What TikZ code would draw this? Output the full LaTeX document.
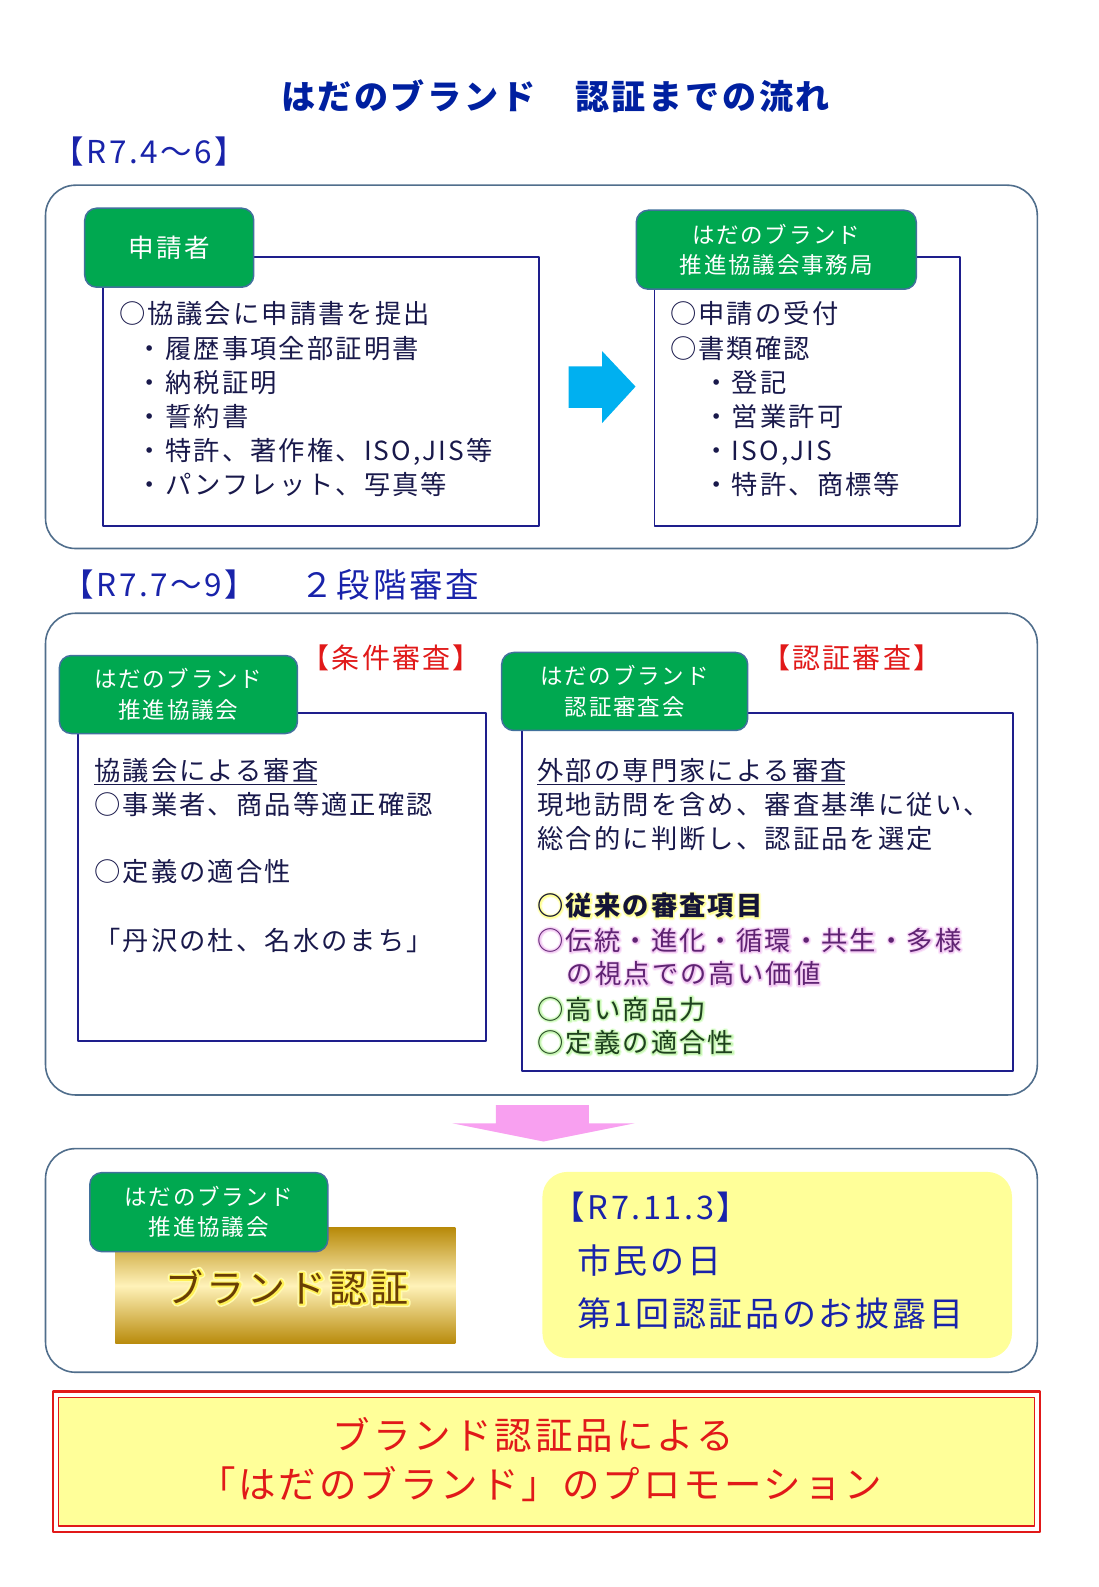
\documentclass[tikz,border=0pt]{standalone}
\usepackage{fontspec}
\setmainfont{Noto Sans CJK JP}[LetterSpace=8]
\newfontfamily\glowouter{Noto Sans CJK JP}[LetterSpace=8, FakeBold=16]
\newfontfamily\glowinner{Noto Sans CJK JP}[LetterSpace=8, FakeBold=8]
\definecolor{titlecol}{RGB}{0,32,160}
\definecolor{hdblue}{RGB}{25,35,170}
\definecolor{bodytxt}{RGB}{25,25,75}
\definecolor{boxframe}{RGB}{80,110,140}
\definecolor{innerframe}{RGB}{30,30,140}
\definecolor{tabgreen}{RGB}{0,168,80}
\definecolor{taborder}{RGB}{65,113,156}
\definecolor{arrowblue}{RGB}{0,176,240}
\definecolor{arrowpink}{RGB}{248,160,240}
\definecolor{redtxt}{RGB}{225,25,25}
\definecolor{lightyellow}{RGB}{255,255,153}
\definecolor{goldd}{RGB}{184,138,10}
\definecolor{goldl}{RGB}{255,242,185}
\definecolor{brandbrown}{RGB}{105,62,5}
\definecolor{purptxt}{RGB}{95,35,115}
\definecolor{dgreentxt}{RGB}{30,65,30}
\definecolor{navytxt}{RGB}{20,20,55}
\definecolor{gyA}{RGB}{255,255,215}
\definecolor{gyB}{RGB}{255,255,150}
\definecolor{gpA}{RGB}{250,230,250}
\definecolor{gpB}{RGB}{242,200,242}
\definecolor{ggA}{RGB}{230,255,220}
\definecolor{ggB}{RGB}{200,246,180}
\definecolor{gbA}{RGB}{255,250,175}
\definecolor{gbB}{RGB}{255,240,85}
\newcommand\halo[3]{\rlap{\glowouter\color{#1}#3}\rlap{\glowinner\color{#2}#3}#3}
\tikzset{
  frame/.style={draw=boxframe, line width=1.6pt, rounded corners=30pt},
  innerbox/.style={draw=innerframe, line width=1.7pt, fill=white, anchor=north west, inner sep=0pt},
  tab/.style={draw=taborder, line width=1.5pt, fill=tabgreen, rounded corners=12pt, text=white, align=center, anchor=north west, inner sep=0pt},
  tabfont/.style={font=\fontsize{22.5}{30.4}\selectfont},
  body/.style={anchor=base west, inner sep=0pt, text=bodytxt, font=\fontsize{26.3}{34}\selectfont},
  head/.style={anchor=base west, inner sep=0pt, text=hdblue, font=\fontsize{31.5}{36}\selectfont},
  redlabel/.style={anchor=base west, inner sep=0pt, text=redtxt, font=\fontsize{28}{30}\selectfont},
  yeltxt/.style={anchor=base west, inner sep=0pt, text=hdblue, font=\fontsize{34}{36}\selectfont},
  promo/.style={anchor=base, inner sep=0pt, text=redtxt, font=\fontsize{37.5}{40}\selectfont},
}
\begin{document}
\begin{tikzpicture}[x=1.012pt, y=-1.012pt, line join=round]
\useasboundingbox (0,0) rectangle (1085,1568.2);
\fill[white] (0,0) rectangle (1085,1568.2);

% Title
\node[anchor=base, inner sep=0pt, text=titlecol, font=\fontsize{34.1}{36}\selectfont\bfseries] (title) at (549,108) {はだのブランド　認証までの流れ};

% ---------- Section 1 ----------
\node[head] (h1) at (52,162) {【R7.4～6】};
\draw[frame] (45,183) rectangle (1025,542);
\node[innerbox, minimum width=436pt, minimum height=269pt] (b1l) at (101,253) {};
\node[innerbox, minimum width=305.6pt, minimum height=269pt] (b1r) at (646,253) {};
\node[tab, minimum width=169pt, minimum height=79pt, font=\fontsize{25.6}{30}\selectfont] (t1l) at (83,205) {申請者};
\node[tab, minimum width=280pt, minimum height=79pt, tabfont] (t1r) at (628,207) {はだのブランド\\推進協議会事務局};

\node[body] (l1a) at (118,320) {○協議会に申請書を提出};
\node[body] (l1b) at (135,354) {・履歴事項全部証明書};
\node[body] (l1c) at (135,388) {・納税証明};
\node[body] (l1d) at (135,421) {・誓約書};
\node[body] (l1e) at (135,455) {・特許、著作権、ISO,JIS等};
\node[body] (l1f) at (135,489) {・パンフレット、写真等};

\node[body] (r1a) at (662,320) {○申請の受付};
\node[body] (r1b) at (662,354) {○書類確認};
\node[body] (r1c) at (695,388) {・登記};
\node[body] (r1d) at (695,421) {・営業許可};
\node[body] (r1e) at (695,455) {・ISO,JIS};
\node[body] (r1f) at (695,489) {・特許、商標等};

\fill[arrowblue] (562,362) -- (595,362) -- (595,347) -- (628,382) -- (595,418) -- (595,403) -- (562,403) -- cycle;

% ---------- Section 2 ----------
\node[head] (h2) at (62,589) {【R7.7～9】};
\node[head, font=\fontsize{33.5}{36}\selectfont] (h2b) at (297,590) {２段階審査};
\draw[frame] (45,606) rectangle (1025,1082);
\node[innerbox, minimum width=408pt, minimum height=328pt] (b2l) at (76,704) {};
\node[innerbox, minimum width=491pt, minimum height=358pt] (b2r) at (515,704) {};
\node[tab, minimum width=238pt, minimum height=78pt, tabfont] (t2l) at (58,647) {はだのブランド\\推進協議会};
\node[tab, minimum width=246pt, minimum height=78pt, tabfont] (t2r) at (495,644) {はだのブランド\\認証審査会};
\node[redlabel] (c2l) at (298,661) {【条件審査】};
\node[redlabel] (c2r) at (753,661) {【認証審査】};

\node[body] (l2a) at (93,771) {協議会による審査};
\draw[bodytxt, line width=1.2pt] ([yshift=-4pt]l2a.base west) -- ([yshift=-4pt, xshift=-2pt]l2a.base east);
\node[body] (l2b) at (93,805) {○事業者、商品等適正確認};
\node[body] (l2c) at (93,871) {○定義の適合性};
\node[body] (l2d) at (93,939) {「丹沢の杜、名水のまち」};

\node[body] (r2a) at (531,771) {外部の専門家による審査};
\draw[bodytxt, line width=1.2pt] ([yshift=-4pt]r2a.base west) -- ([yshift=-4pt, xshift=-2pt]r2a.base east);
\node[body] (r2b) at (531,805) {現地訪問を含め、審査基準に従い、};
\node[body] (r2c) at (531,838) {総合的に判断し、認証品を選定};
\node[body, text=navytxt, font=\fontsize{26.3}{34}\selectfont\bfseries] (r2d) at (531,905) {\halo{gyA}{gyB}{○従来の審査項目}};
\node[body, text=purptxt] (r2e) at (531,939) {\halo{gpA}{gpB}{○伝統・進化・循環・共生・多様}};
\node[body, text=purptxt] (r2f) at (560,972) {\halo{gpA}{gpB}{の視点での高い価値}};
\node[body, text=dgreentxt] (r2g) at (531,1007) {\halo{ggA}{ggB}{○高い商品力}};
\node[body, text=dgreentxt] (r2h) at (531,1040) {\halo{ggA}{ggB}{○定義の適合性}};

% pink arrow
\fill[arrowpink] (490,1092) -- (582,1092) -- (582,1110) -- (627,1110) -- (537,1128) -- (447,1110) -- (490,1110) -- cycle;

% ---------- Section 3 ----------
\draw[frame] (45,1135) rectangle (1025,1356);
\shade[top color=goldd, bottom color=goldd, middle color=goldl] (114,1213) rectangle (450,1328);
\node[tab, minimum width=238pt, minimum height=79pt, tabfont] (t3) at (88,1158) {はだのブランド\\推進協議会};
\node[anchor=base, inner sep=0pt, text=brandbrown, font=\fontsize{38}{40}\selectfont] (brand) at (284,1287) {\halo{gbA}{gbB}{ブランド認証}};

\fill[lightyellow, rounded corners=25pt] (536,1158) rectangle (1000,1342);
\node[yeltxt, font=\fontsize{32.5}{36}\selectfont] (y1) at (546,1205) {【R7.11.3】};
\node[yeltxt] (y2) at (570,1258) {市民の日};
\node[yeltxt] (y3) at (570,1311) {第1回認証品のお披露目};

% ---------- Bottom promotion box ----------
\draw[redtxt, line width=2.2pt] (52,1375) rectangle (1028,1514);
\draw[redtxt, line width=1.4pt, fill=lightyellow] (58,1381) rectangle (1022,1508);
\node[promo] (p1) at (527,1432) {ブランド認証品による};
\node[promo] (p2) at (534,1481) {「はだのブランド」のプロモーション};
\end{tikzpicture}
\end{document}
